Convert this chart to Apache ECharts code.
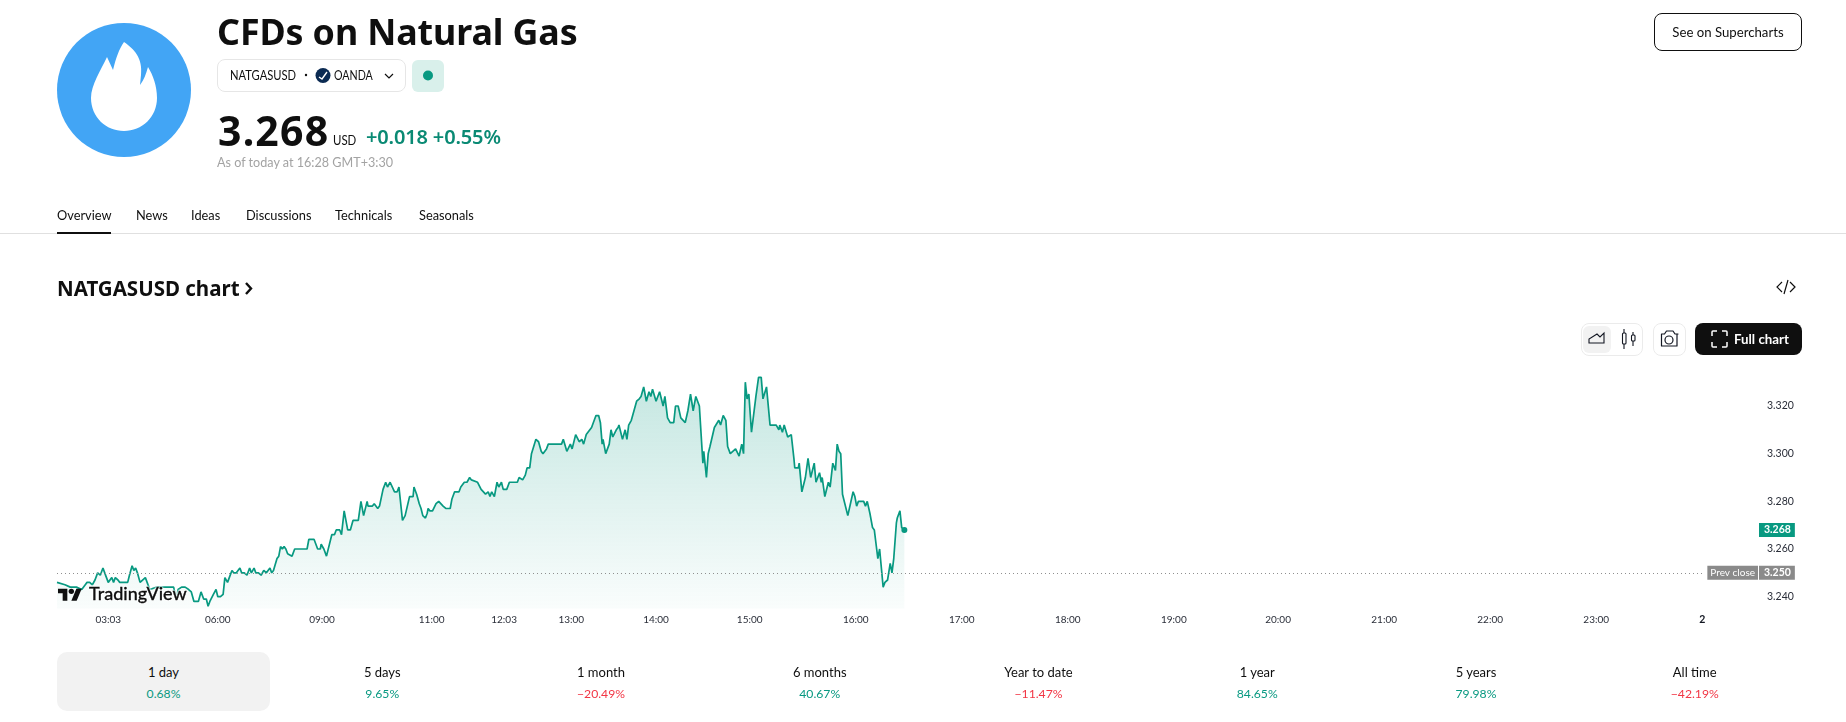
<!DOCTYPE html>
<html><head><meta charset="utf-8">
<script src="https://cdn.jsdelivr.net/npm/echarts@6/dist/echarts.min.js"></script>
<style>
html,body{margin:0;padding:0;background:#fff;width:1846px;height:722px;overflow:hidden;font-family:Lato,"Noto Sans",sans-serif;color:#0f0f0f}
#chart{position:absolute;left:0;top:0;width:1846px;height:722px}
.t{position:absolute;white-space:nowrap;z-index:2}
.n{font-family:"Noto Sans",sans-serif}
.b{position:absolute;z-index:2;box-sizing:border-box}
svg{position:absolute;z-index:2;overflow:visible}
.tab{position:absolute;top:652px;width:213px;height:59px;border-radius:10px;text-align:center;z-index:2;font-size:13px;line-height:21px;padding-top:10px;box-sizing:border-box}
.tab div:last-child{font-size:12.2px}
</style></head><body>
<div id="chart"></div>
<!-- header -->
<svg style="left:0;top:0" width="1846" height="722">
<circle cx="124" cy="90" r="67" fill="#42a5f5"/>
<path fill="#fff" d="M107 57 L113 70 C116 58 119 49 124 42 C134 49 143 58 141 75 L140 85 C144 80 146 74 148 67 C153 75 157 86 157 98 C157 117 142 131 124 131 C106 131 91 117 91 98 C91 85 101 70 107 57 Z"/>
<circle cx="306" cy="75" r="1.2" fill="#0f0f0f"/>
<circle cx="323" cy="75.5" r="7.5" fill="#0b2a52"/>
<path d="M319 77 L322 79 L327 72" fill="none" stroke="#fff" stroke-width="1.4"/>
<path d="M385 74 L389 78 L393 74" fill="none" stroke="#0f0f0f" stroke-width="1.2"/>
<circle cx="428" cy="75.5" r="5" fill="#089981"/>
<path d="M246 283 L251 288.5 L246 294" fill="none" stroke="#0f0f0f" stroke-width="2.4"/>
<path d="M1782 282 L1777 287 L1782 292 M1790 282 L1795 287 L1790 292 M1788 280 L1784 294" fill="none" stroke="#0f0f0f" stroke-width="1.2"/>
<path d="M1589 343 L1589 339 L1597 334 L1600 337 L1604 333 L1604 343 Z" fill="none" stroke="#131722" stroke-width="1.1"/>
<path d="M1624 329 V349 M1633 332 V346" stroke="#131722" stroke-width="1.1"/>
<rect x="1622.5" y="333" width="3.5" height="11" rx="1" fill="#fff" stroke="#131722" stroke-width="1.1"/>
<rect x="1631.5" y="335" width="3.5" height="6" rx="1" fill="#fff" stroke="#131722" stroke-width="1.1"/>
<path d="M1661.5 334 H1664.5 L1666.5 331 H1673 L1675 334 H1678 Q1677 334 1677 334 V346 H1661.5 Z" fill="none" stroke="#131722" stroke-width="1.2" stroke-linejoin="round"/>
<circle cx="1669" cy="340" r="4" fill="none" stroke="#131722" stroke-width="1.2"/>
<path d="M1712 336 V332 Q1712 331 1713 331 H1717 M1722 331 H1726 Q1727 331 1727 332 V336 M1727 342 V346 Q1727 347 1726 347 H1722 M1717 347 H1713 Q1712 347 1712 346 V342" fill="none" stroke="#fff" stroke-width="1.5"/>
<g transform="translate(58,586) scale(.667)" fill="#0f0f0f">
<path d="M14 22H7V11H0V4h14v18zM28 22h-8l7.5-18h8L28 22z"/><circle cx="20" cy="8" r="4"/></g>
</svg>
<div class="t n" style="left:217px;top:6px;font-size:35.8px;line-height:50px;font-weight:700;letter-spacing:-.1px">CFDs on Natural Gas</div>
<div class="b" style="left:217px;top:59px;width:189px;height:33px;border:1px solid #e6e6e6;border-radius:8px"></div>
<div class="t" style="left:230px;top:65px;font-size:13px;line-height:20px;transform:scaleX(.86);transform-origin:left center">NATGASUSD</div>
<div class="t" style="left:334px;top:65px;font-size:13px;line-height:20px;transform:scaleX(.82);transform-origin:left center">OANDA</div>
<div class="b" style="left:412px;top:60px;width:32px;height:32px;border-radius:6px;background:#d9f0eb;z-index:1"></div>
<div class="t n" style="left:218px;top:102px;font-size:41px;line-height:56px;font-weight:700;letter-spacing:1.2px">3.268</div>
<div class="t" style="left:333px;top:130px;font-size:13px;line-height:20px;transform:scaleX(.88);transform-origin:left center">USD</div>
<div class="t n" style="left:366px;top:123px;font-size:20px;line-height:28px;font-weight:600;color:#0a8a74;letter-spacing:-.15px">+0.018 +0.55%</div>
<div class="t" style="left:217px;top:152.5px;font-size:12.6px;line-height:20px;color:#a3a3a3">As of today at 16:28 GMT+3:30</div>
<div class="t" style="left:57px;top:205px;font-size:12.8px;line-height:20px">Overview</div>
<div class="t" style="left:136px;top:205px;font-size:12.8px;line-height:20px">News</div>
<div class="t" style="left:191px;top:205px;font-size:12.8px;line-height:20px">Ideas</div>
<div class="t" style="left:246px;top:205px;font-size:12.8px;line-height:20px">Discussions</div>
<div class="t" style="left:335px;top:205px;font-size:12.8px;line-height:20px">Technicals</div>
<div class="t" style="left:419px;top:205px;font-size:12.8px;line-height:20px">Seasonals</div>
<div class="b" style="left:0;top:233px;width:1846px;height:1px;background:#e0e0e0"></div>
<div class="b" style="left:57px;top:232px;width:54px;height:2px;background:#0f0f0f"></div>
<div class="t n" style="left:57px;top:274px;font-size:20.5px;line-height:28px;font-weight:700">NATGASUSD chart</div>
<div class="b" style="left:1654px;top:13px;width:148px;height:38px;border:1px solid #0f0f0f;border-radius:8px;text-align:center;font-size:13.2px;line-height:36px">See on Supercharts</div>
<div class="b" style="left:1581px;top:323px;width:62px;height:33px;border:1px solid #ebebeb;border-radius:8px"></div>
<div class="b" style="left:1583px;top:326px;width:28px;height:27px;background:#f2f2f2;border-radius:6px;z-index:1"></div>
<div class="b" style="left:1653px;top:323px;width:33px;height:33px;border:1px solid #ebebeb;border-radius:8px"></div>
<div class="b" style="left:1695px;top:323px;width:107px;height:32px;background:#0f0f0f;border-radius:8px;z-index:1"></div>
<div class="t" style="left:1734px;top:329px;font-size:13.3px;line-height:20px;color:#fff;font-weight:700">Full chart</div>
<div class="t" style="left:89px;top:580px;font-size:18px;line-height:26px;font-weight:500;color:#0f0f0f;-webkit-text-stroke:.3px #0f0f0f;text-shadow:0 0 2px #fff,0 0 2px #fff,0 0 3px #fff,0 0 3px #fff">TradingView</div>
<div id="tabs"></div>
<script>
// Session minute of each sampled close (bars counted from the left edge of the chart)
var sessionMinute = [0,1,4.5,7.5,11,14,16,17,18.5,20,21.5,23,24.5,26,27,29,31,32,33,34.5,35.5,36.5,38.5,40,41,42.5,43.5,44.5,45.5,47,48,50,51,52.5,56.5,60,63,66,67.5,68.5,70.5,72.5,74.5,76,77.5,80,81.5,83,84.5,85.5,86.5,88.5,90,91,92.5,94,95,96.5,97.5,99,100,101.5,103.5,104.5,106,107.5,109,110,111.5,112.5,114,115.5,117,118.5,119.5,120.5,121.5,122.5,124.5,125.5,126.5,127.5,128.5,129.5,130.5,131.5,133,134.5,141.5,142.5,145.5,147.5,149,149.5,151,152.5,155.5,157,158,160,161,162.5,164.5,166,167.5,170.5,172,173.5,175.5,176,178.5,179.5,181.5,182.5,184.5,186,187,188.5,189.5,191,192.5,193.5,195.5,197,198,199.5,201.5,202,203.5,205,206,207,208.5,209.5,210,211,212.5,214.5,216,217,218.5,220,222.5,223.5,225,227.5,228.5,229.5,230.5,232,233.5,234.5,238,240,242.5,244,245,246,247.5,249,250,251.5,252.5,254.5,256,260.5,261.5,262.5,263.5,265,266,267.5,268.5,269,271,272.5,274,275,277,278,285.5,286.5,287.5,288.5,290.5,291.5,293.5,294.5,295.5,297,298,299.5,300.5,302.5,305,306.5,307.5,308.5,309,310.5,312.5,313.5,314.5,316.5,317.5,318,320,321.5,322.5,323.5,325,326,328,329.5,330.5,331.5,332,333.5,334.5,335,336,337,339,341,341.5,343,344,345.5,347,349,350,351.5,353,355.5,357,358.5,359,360,361.5,362.5,363.5,365.5,366,367.5,368.5,369.5,372,374.5,375.5,377,378.5,379.5,381,384,385,386,387.5,388.5,389.5,390.5,391.5,393,395.5,397,398.5,399.5,401.5,403.5,407,408.5,409,410.5,411.5,412.5,413.5,415.5,417,417.5,419.5,420,421.5,422.5,423.5,425,426.5,428.5,429.5,430.5,431.5,432.5,433,434.5,435,436.5,437.5,439,439.5,440.5,441.5,442.5,443.5,444.5,445.5,447.5,448.5,450.5,451.5,452.5,453.5,456.5,457.5,458.5,460,461.5,462.5,463.5,464.5,465.5,467.5,468.5,470,471.5,472.5,473.5,475,475.5,477,478,479.5];
var closePrice = [3.246,3.246,3.245,3.244,3.244,3.243,3.245,3.246,3.246,3.245,3.247,3.250,3.249,3.252,3.250,3.246,3.248,3.246,3.248,3.247,3.246,3.246,3.246,3.246,3.249,3.253,3.251,3.252,3.250,3.246,3.246,3.248,3.246,3.243,3.244,3.244,3.244,3.244,3.239,3.243,3.244,3.244,3.243,3.242,3.238,3.238,3.242,3.239,3.239,3.236,3.238,3.241,3.243,3.240,3.240,3.241,3.248,3.246,3.248,3.251,3.250,3.250,3.252,3.250,3.250,3.249,3.252,3.250,3.252,3.250,3.250,3.249,3.251,3.250,3.250,3.252,3.250,3.251,3.256,3.257,3.261,3.260,3.261,3.260,3.258,3.258,3.257,3.260,3.260,3.264,3.264,3.260,3.260,3.262,3.260,3.257,3.266,3.266,3.268,3.268,3.266,3.276,3.268,3.268,3.272,3.272,3.280,3.274,3.280,3.278,3.278,3.279,3.277,3.278,3.285,3.288,3.286,3.288,3.288,3.284,3.284,3.286,3.272,3.274,3.274,3.282,3.282,3.286,3.283,3.279,3.277,3.274,3.273,3.275,3.277,3.276,3.276,3.279,3.280,3.280,3.278,3.277,3.277,3.281,3.284,3.284,3.286,3.286,3.288,3.288,3.290,3.289,3.288,3.285,3.283,3.284,3.282,3.284,3.282,3.288,3.286,3.288,3.285,3.285,3.288,3.288,3.290,3.290,3.289,3.291,3.294,3.294,3.300,3.300,3.306,3.305,3.301,3.300,3.302,3.304,3.304,3.306,3.306,3.301,3.304,3.302,3.308,3.308,3.305,3.306,3.304,3.308,3.308,3.311,3.316,3.316,3.313,3.304,3.306,3.300,3.304,3.310,3.307,3.310,3.311,3.312,3.306,3.310,3.306,3.312,3.314,3.314,3.322,3.323,3.324,3.324,3.328,3.322,3.322,3.326,3.324,3.327,3.322,3.326,3.326,3.320,3.324,3.315,3.313,3.313,3.320,3.320,3.315,3.313,3.318,3.325,3.325,3.318,3.324,3.324,3.320,3.296,3.301,3.290,3.300,3.303,3.311,3.314,3.312,3.316,3.314,3.303,3.300,3.302,3.302,3.299,3.304,3.300,3.330,3.323,3.325,3.309,3.324,3.332,3.332,3.323,3.328,3.312,3.312,3.310,3.312,3.309,3.312,3.312,3.307,3.308,3.298,3.294,3.294,3.296,3.284,3.284,3.290,3.298,3.290,3.296,3.288,3.288,3.292,3.288,3.290,3.282,3.282,3.288,3.286,3.296,3.295,3.293,3.304,3.301,3.300,3.283,3.283,3.274,3.274,3.284,3.282,3.278,3.280,3.280,3.278,3.280,3.275,3.269,3.268,3.262,3.256,3.260,3.244,3.246,3.247,3.254,3.250,3.256,3.271,3.273,3.276,3.269,3.268];
var timeTickMinute = [29,91,150,212,253,291,339,392,452,512,572,632,691,751,811,871,931];
var timeTickLabel = ['03:03','06:00','09:00','11:00','12:03','13:00','14:00','15:00','16:00','17:00','18:00','19:00','20:00','21:00','22:00','23:00','2'];
var priceTicks = [3.24,3.26,3.28,3.30,3.32];
var prevClose = 3.250;
var lastPrice = 3.268;
var periodLabels = ['1 day','5 days','1 month','6 months','Year to date','1 year','5 years','All time'];
var periodValues = ['0.68%','9.65%','−20.49%','40.67%','−11.47%','84.65%','79.98%','−42.19%'];

var points = sessionMinute.map(function(m,i){return [m,closePrice[i]];});
var font = 'Lato,"Noto Sans",sans-serif';
var chart = echarts.init(document.getElementById('chart'),null,{renderer:'canvas'});
function tag(value,text,side,bg,size){
  return {type:'scatter',clip:false,symbolSize:0,z:6,data:[[962,value]],silent:true,itemStyle:{opacity:1},
    label:{show:true,position:side,distance:side==='right'?2:-1,formatter:function(){return text;},
      padding:[2,side==='right'?4:3,2,side==='right'?5:3],lineHeight:10,backgroundColor:bg,color:'#fff',fontSize:size,fontFamily:font,fontWeight:side==='right'?'bold':'normal'}};
}
chart.setOption({
  animation:false,
  grid:{left:57,right:89,top:346.4,bottom:113.4,containLabel:false},
  xAxis:{type:'value',min:0,max:962,splitLine:{show:false},axisLine:{show:false},axisTick:{show:false},
    axisLabel:{customValues:timeTickMinute,margin:6,fontSize:10,fontFamily:font,color:'#2a2e39',
      formatter:function(v){var l=timeTickLabel[timeTickMinute.indexOf(v)];return l==='2'?'{b|2}':l;},
      rich:{b:{fontWeight:'bold',fontSize:10.5,fontFamily:font,color:'#131722'}}}},
  yAxis:{type:'value',position:'right',min:3.235,max:3.345,splitLine:{show:false},axisLine:{show:false},axisTick:{show:false},
    axisLabel:{customValues:priceTicks,margin:10,fontSize:10.5,fontFamily:font,color:'#2a2e39',formatter:function(v){return v.toFixed(3);}}},
  series:[
    {type:'line',data:points,showSymbol:false,symbol:'none',smooth:false,
      lineStyle:{color:'#089981',width:1.7},
      areaStyle:{origin:'start',color:new echarts.graphic.LinearGradient(0,0,0,1,[{offset:0,color:'rgba(8,153,129,0.34)'},{offset:1,color:'rgba(8,153,129,0.03)'}])},
      markLine:{silent:true,symbol:'none',label:{show:false},lineStyle:{type:[1,3],color:'#8f8f8f',width:1},
        data:[[{coord:[0,prevClose]},{coord:[932,prevClose]}]]}},
    {type:'scatter',clip:false,symbolSize:6,itemStyle:{color:'#089981',opacity:1},data:[points[points.length-1]],z:5},
    tag(lastPrice,lastPrice.toFixed(3),'right','#089981',10.5),
    tag(prevClose,prevClose.toFixed(3),'right','#8a8a8a',10.5),
    tag(prevClose,'Prev close','left','#8a8a8a',10)
  ]
});
var tabsEl = document.getElementById('tabs');
periodLabels.forEach(function(lab,i){
  var v = periodValues[i], d = document.createElement('div');
  d.className='tab'; d.style.left=(57+218.75*i)+'px';
  if(i===0) d.style.background='#f2f2f2';
  d.innerHTML='<div>'+lab+'</div><div style="color:'+(v.charAt(0)==='−'?'#f23645':'#089981')+'">'+v+'</div>';
  tabsEl.appendChild(d);
});
</script>
</body></html>
